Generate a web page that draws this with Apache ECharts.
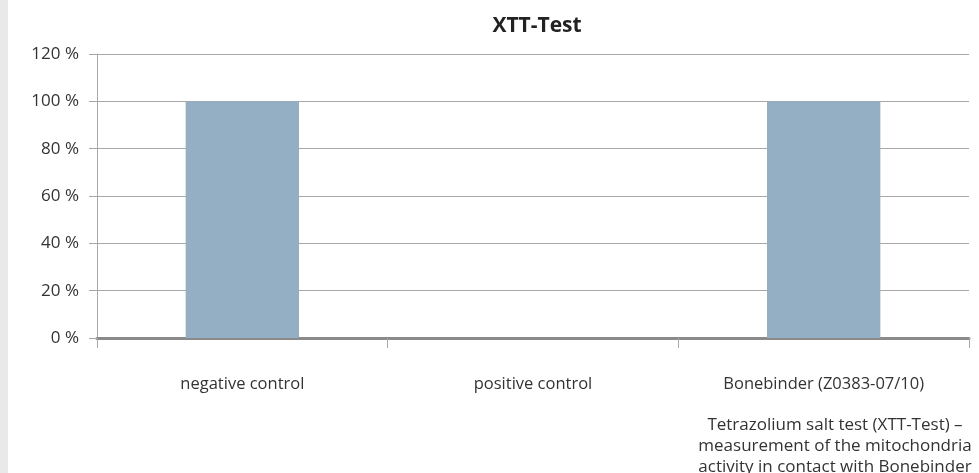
<!DOCTYPE html>
<html>
<head>
<meta charset="utf-8">
<script src="https://cdn.jsdelivr.net/npm/echarts@6/dist/echarts.min.js"></script>
<style>
    html, body { margin: 0; padding: 0; background: #ffffff; }
    #strip { position: absolute; left: 0; top: 0; width: 8px; height: 473px; background: #e9e9e9; }
    #chart { width: 979px; height: 473px; }
</style>
</head>
<body>
<div id="strip"></div>
<div id="chart"></div>
<script>
// categories and values (percent)
const categories = ["negative control", "positive control", "Bonebinder (Z0383-07/10)"];
const xttValues = [100, 0, 100];
const yTicks = { min: 0, max: 120, interval: 20 };
const captionLines = [
    "Tetrazolium salt test (XTT-Test) –",
    "measurement of the mitochondria",
    "activity in contact with Bonebinder"
];

const fontFamily = "'Open Sans', 'Noto Sans', sans-serif";
const chart = echarts.init(document.getElementById("chart"));

const option = {
    animation: false,
    textStyle: { fontFamily },
    title: [
        {
            text: "XTT-Test",
            left: 532,
            top: 11,
            textAlign: "center",
            textStyle: { fontSize: 21, fontWeight: "bold", color: "#222", fontFamily }
        },
        {
            text: captionLines.join("\n"),
            left: 830,
            top: 410,
            textAlign: "center",
            textStyle: { fontSize: 17, fontWeight: "normal", color: "#333", lineHeight: 21, fontFamily }
        }
    ],
    grid: { left: 97, right: 10, top: 54, bottom: 135 },
    xAxis: {
        type: "category",
        data: categories,
        axisLine: { lineStyle: { color: "#8a8a8a", width: 3 } },
        axisTick: { show: true, alignWithLabel: false, length: 10, lineStyle: { color: "#a8a8a8", width: 1 } },
        axisLabel: { color: "#333", fontSize: 16.5, margin: 38, fontFamily }
    },
    yAxis: {
        type: "value",
        min: yTicks.min,
        max: yTicks.max,
        interval: yTicks.interval,
        axisLine: { show: true, lineStyle: { color: "#a8a8a8", width: 1 } },
        axisTick: { show: true, length: 8, lineStyle: { color: "#a8a8a8" } },
        axisLabel: { formatter: "{value} %", color: "#333", fontSize: 17, margin: 18, fontFamily },
        splitLine: { lineStyle: { color: "#a8a8a8", width: 1 } }
    },
    series: [
        {
            type: "bar",
            data: xttValues,
            barWidth: "39%",
            itemStyle: { color: "#94aec3" },
            silent: true
        }
    ]
};
chart.setOption(option);
</script>
</body>
</html>
